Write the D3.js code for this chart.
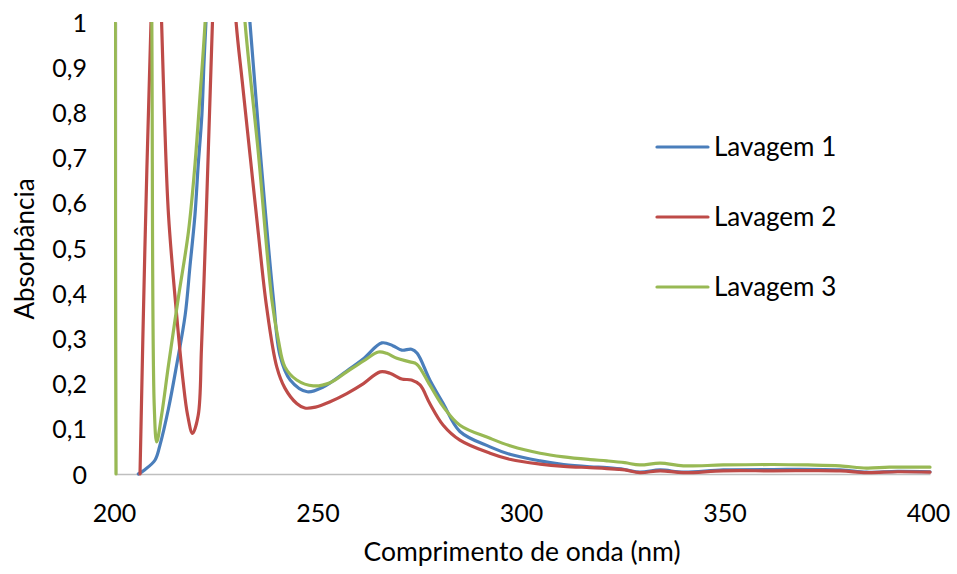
<!DOCTYPE html>
<html>
<head>
<meta charset="utf-8">
<script src="https://cdn.jsdelivr.net/npm/d3@7"></script>
<style>
  html, body { margin: 0; padding: 0; background: #fff; }
  svg { display: block; }
  text { font-family: Lato, "Open Sans", sans-serif; fill: #000; }
</style>
</head>
<body>
<svg id="chart" width="957" height="574"></svg>
<script>
// ---- Data ----
const seriesNames = ["Lavagem 1", "Lavagem 2", "Lavagem 3"];
const seriesColors = ["#4A7EBB", "#BE4B48", "#98B954"];

const xTicks = [200, 250, 300, 350, 400];
const yTicks = [0, 0.1, 0.2, 0.3, 0.4, 0.5, 0.6, 0.7, 0.8, 0.9, 1];

// Lavagem 1 (blue)
const lav1X = [205.5, 207, 209.6, 210.8, 212.9, 214.9, 217.0, 218.2, 219.4, 220.2, 221.1, 221.6, 222.1, 223.5, 227.5, 230.5, 232.9, 235.4, 238.7, 240.3, 242.8, 247.0, 251.0, 256.7, 260.8, 265.3, 268.0, 270.2, 272.6, 274.0, 277.1, 280.4, 284.5, 291.9, 297, 304.2, 310, 316.5, 320.6, 325, 328.7, 333.7, 339.4, 349.2, 361.5, 377.9, 384.4, 392, 400];
const lav1Y = [0, 0.009, 0.031, 0.064, 0.145, 0.241, 0.352, 0.462, 0.573, 0.684, 0.794, 0.905, 1.0, 1.25, 1.7, 1.25, 1.0, 0.717, 0.385, 0.262, 0.208, 0.182, 0.193, 0.228, 0.255, 0.290, 0.284, 0.274, 0.276, 0.267, 0.208, 0.156, 0.094, 0.060, 0.043, 0.029, 0.021, 0.016, 0.014, 0.010, 0.004, 0.009, 0.004, 0.009, 0.010, 0.009, 0.004, 0.006, 0.005];

// Lavagem 2 (red)
const lav2X = [205.9, 207.1, 208.6, 209.8, 211.2, 211.9, 212.9, 214.9, 216.5, 217.6, 218.8, 220.2, 221.0, 221.9, 222.7, 223.7, 225.5, 227.0, 229.5, 231, 233, 235, 237.0, 239.5, 241.5, 244.4, 246.4, 249, 252.6, 256.7, 260.8, 264.9, 267.3, 270.2, 272.6, 274.7, 277.1, 280.4, 284.5, 291.9, 297, 304.2, 310, 316.5, 320.6, 325, 328.7, 333.7, 339.4, 349.2, 361.5, 377.9, 384.4, 392, 400];
const lav2Y = [0, 0.5, 1.0, 1.3, 1.0, 0.794, 0.573, 0.352, 0.204, 0.13, 0.09, 0.13, 0.278, 0.5, 0.72, 1.0, 1.35, 1.35, 1.0, 0.87, 0.70, 0.53, 0.37, 0.237, 0.19, 0.156, 0.146, 0.148, 0.160, 0.178, 0.200, 0.226, 0.223, 0.210, 0.208, 0.197, 0.156, 0.108, 0.075, 0.046, 0.032, 0.022, 0.017, 0.014, 0.012, 0.009, 0.003, 0.007, 0.003, 0.007, 0.007, 0.007, 0.003, 0.005, 0.004];

// Lavagem 3 (green)
const lav3X = [200, 201, 204, 207, 208.3, 208.8, 209.4, 210.0, 211.2, 212.9, 215.3, 217.8, 219.4, 220.6, 221.9, 223.5, 226.5, 229.5, 231.7, 234.9, 238.3, 239.9, 241.5, 244.4, 248.5, 252.6, 256.7, 260.8, 264.5, 266.5, 269.0, 272.2, 273.9, 277.1, 280.4, 284.5, 291.9, 297, 304.2, 310, 316.5, 320.6, 325, 328.7, 333.7, 339.4, 349.2, 361.5, 370, 377.9, 384.4, 390, 400];
const lav3Y = [0, 3.0, 3.5, 2.8, 1.6, 1.0, 0.15, 0.071, 0.13, 0.241, 0.389, 0.536, 0.684, 0.831, 1.0, 1.3, 1.8, 1.3, 1.0, 0.717, 0.385, 0.296, 0.237, 0.208, 0.195, 0.202, 0.226, 0.250, 0.270, 0.267, 0.256, 0.248, 0.243, 0.197, 0.149, 0.108, 0.079, 0.062, 0.046, 0.038, 0.032, 0.029, 0.025, 0.020, 0.024, 0.018, 0.020, 0.021, 0.020, 0.018, 0.013, 0.015, 0.015];

const seriesX = [lav1X, lav2X, lav3X];
const seriesY = [lav1Y, lav2Y, lav3Y];

// ---- Layout ----
const svg = d3.select("#chart");
const plot = { left: 116, right: 930, top: 22, bottom: 474 };

const x = d3.scaleLinear().domain([200, 400]).range([plot.left, plot.right]);
const y = d3.scaleLinear().domain([0, 1]).range([plot.bottom, plot.top]);

svg.append("defs").append("clipPath").attr("id", "plotClip")
  .append("rect")
  .attr("x", plot.left - 2).attr("y", plot.top)
  .attr("width", plot.right - plot.left + 4)
  .attr("height", plot.bottom - plot.top + 2);

const fmt = d => d3.format(".1f")(d).replace(".", ",").replace(/,0$/, "");

const xAxis = d3.axisBottom(x).tickValues(xTicks).tickSize(0).tickPadding(0).tickFormat(d3.format("d"));
const gx = svg.append("g").attr("transform", `translate(0,${plot.bottom})`).call(xAxis);
gx.select(".domain").attr("stroke", "#BFBFBF").attr("stroke-width", 1.5);
gx.selectAll("text").attr("font-size", 25).attr("font-family", "Lato").attr("dy", 0).attr("y", 48).attr("dx", -2);

const yAxis = d3.axisLeft(y).tickValues(yTicks).tickSize(0).tickPadding(0).tickFormat(fmt);
const gy = svg.append("g").attr("transform", `translate(${plot.left},0)`).call(yAxis);
gy.select(".domain").attr("stroke", "#BFBFBF").attr("stroke-width", 1.5);
gy.selectAll("text").attr("font-size", 25).attr("font-family", "Lato").attr("x", -29).attr("dy", "0.36em");

// Series
const line = d3.line()
  .x(d => x(d[0]))
  .y(d => y(d[1]))
  .curve(d3.curveCatmullRom.alpha(0.5));

const gLines = svg.append("g").attr("clip-path", "url(#plotClip)");
seriesNames.forEach((name, i) => {
  const pts = seriesX[i].map((v, j) => [v, seriesY[i][j]]);
  gLines.append("path")
    .datum(pts)
    .attr("fill", "none")
    .attr("stroke", seriesColors[i])
    .attr("stroke-width", 3.2)
    .attr("stroke-linejoin", "round")
    .attr("stroke-linecap", "round")
    .attr("d", line);
});

// Axis titles
svg.append("text")
  .attr("x", 522)
  .attr("y", 561)
  .attr("text-anchor", "middle")
  .attr("font-size", 26.5)
  .text("Comprimento de onda (nm)");

svg.append("text")
  .attr("transform", `translate(34,249) rotate(-90)`)
  .attr("text-anchor", "middle")
  .attr("font-size", 26)
  .text("Absorbância");

// Legend
const legendY = [147, 217, 287];
seriesNames.forEach((name, i) => {
  const g = svg.append("g");
  g.append("line")
    .attr("x1", 657).attr("x2", 708)
    .attr("y1", legendY[i]).attr("y2", legendY[i])
    .attr("stroke", seriesColors[i])
    .attr("stroke-width", 3.2)
    .attr("stroke-linecap", "round");
  g.append("text")
    .attr("x", 714)
    .attr("y", legendY[i])
    .attr("dy", "0.36em")
    .attr("font-size", 26)
    .text(name);
});
</script>
</body>
</html>
